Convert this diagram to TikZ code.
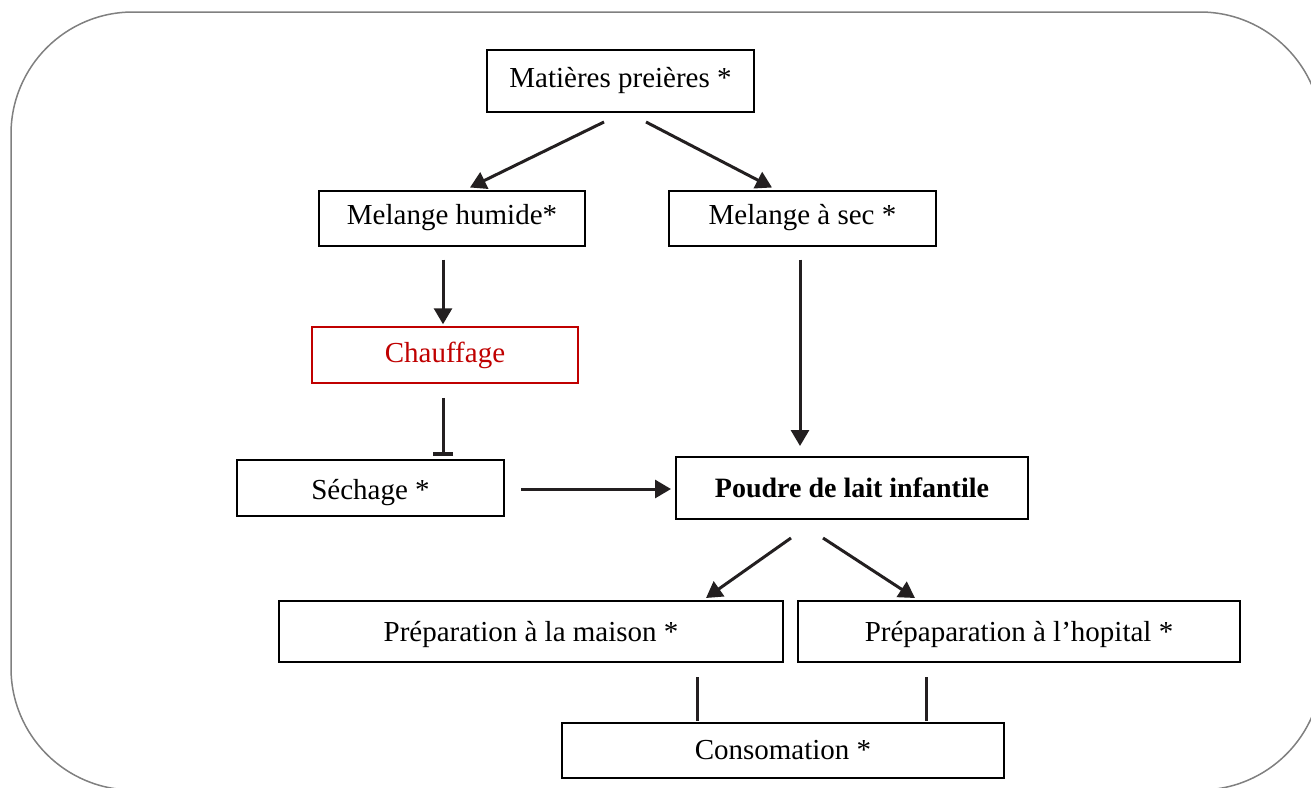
\documentclass[tikz,border=0pt]{standalone}
\usepackage{fontspec}
\setmainfont{Liberation Serif}
\usetikzlibrary{arrows.meta,calc}
\definecolor{ink}{HTML}{231F20}
\definecolor{redbox}{HTML}{C00000}
\definecolor{frame}{HTML}{808080}
\tikzset{
  stepbox/.style={draw=black, line width=2pt, inner sep=0pt, font=\fontsize{29}{34}\selectfont},
  arr/.style={draw=ink, line width=3pt, -{Triangle[length=16pt,width=18pt]}},
  barr/.style={draw=ink, line width=3pt, -{Bar[width=20pt,line width=4pt]}},
  plain/.style={draw=ink, line width=3pt},
}
\begin{document}
\begin{tikzpicture}[x=1pt,y=-1pt]
\useasboundingbox (0,0) rectangle (1311,787);
\clip (0,0) rectangle (1311,787);
\fill[white] (0,0) rectangle (1311,787);
\draw[frame, line width=1.5pt, rounded corners=122pt] (11,12) rectangle (1322,790);

\node[stepbox, minimum width=267pt, minimum height=62pt] (mat) at (620.5,81) {Matières preières *};
\node[stepbox, minimum width=266pt, minimum height=55pt] (mh) at (452,218) {Melange humide*};
\node[stepbox, minimum width=267pt, minimum height=55pt] (ms) at (802.5,218) {Melange à sec *};
\node[stepbox, draw=redbox, text=redbox, line width=1.5pt, minimum width=266pt, minimum height=56pt] (ch) at (445,355) {Chauffage};
\node[stepbox, minimum width=267pt, minimum height=56pt, label={[yshift=-5pt,font=\fontsize{29}{34}\selectfont]center:Séchage *}] (se) at (370.5,488) {};
\node[stepbox, minimum width=352pt, minimum height=62pt, font=\fontsize{28}{34}\selectfont\bfseries] (po) at (852,488) {Poudre de lait infantile};
\node[stepbox, minimum width=504pt, minimum height=61pt, label={[yshift=-3pt,font=\fontsize{29}{34}\selectfont]center:Préparation à la maison *}] (pm) at (531,631.5) {};
\node[stepbox, minimum width=442pt, minimum height=61pt, label={[yshift=-3pt,font=\fontsize{29}{34}\selectfont]center:Prépaparation à l’hopital *}] (ph) at (1019,631.5) {};
\node[stepbox, minimum width=442pt, minimum height=55pt] (co) at (783,750.5) {Consomation *};

\draw[arr] ($(mat.south)+(-16.5,9)$) -- ($(mh.north)+(18,-2)$);
\draw[arr] ($(mat.south)+(25.5,9)$) -- ($(ms.north)+(-30.5,-2)$);
\draw[arr] ($(mh.south)+(-9,13)$) -- ($(ch.north)+(-2,-2)$);
\draw[barr] ($(ch.south)+(-2,14)$) -- ($(se.north)+(72.5,-3)$);
\draw[arr] ($(ms.south)+(-2.5,13)$) -- ($(po.north)+(-52,-10)$);
\draw[arr] ($(se.east)+(16,1)$) -- ($(po.west)+(-4,1)$);
\draw[arr] ($(po.south)+(-61,18)$) -- ($(pm.north)+(175,-2)$);
\draw[arr] ($(po.south)+(-29,18)$) -- ($(ph.north)+(-104,-2)$);
\draw[plain] ($(pm.south)+(166,14)$) -- ($(co.north)+(-86,-1)$);
\draw[plain] ($(ph.south)+(-93,14)$) -- ($(co.north)+(143,-1)$);
\end{tikzpicture}
\end{document}
